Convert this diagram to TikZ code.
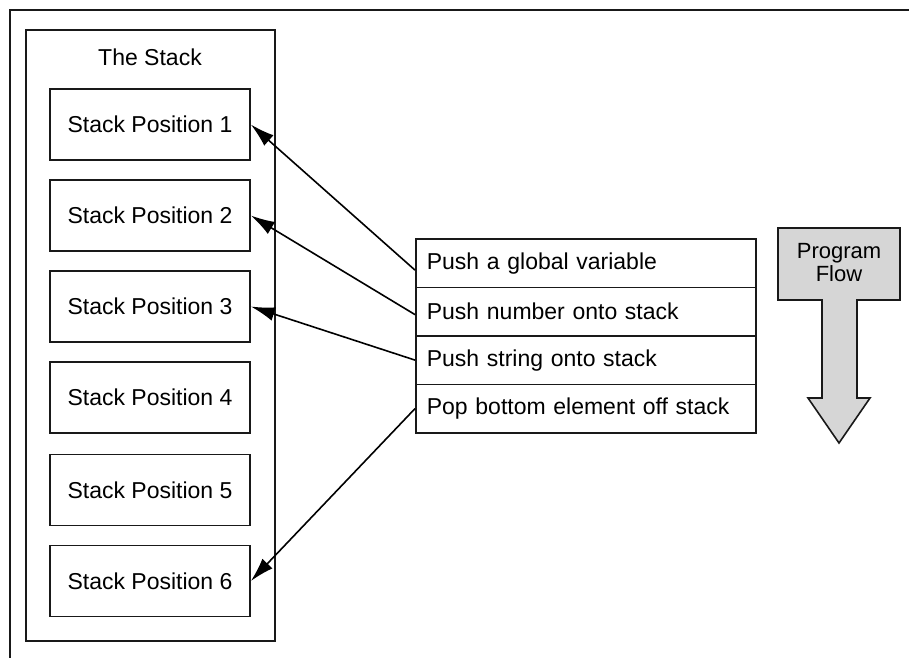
\documentclass[tikz,border=0pt]{standalone}
\usepackage{fontspec}
\setmainfont{Liberation Sans}
\usetikzlibrary{arrows.meta}
\begin{document}
\begin{tikzpicture}[x=1pt,y=-1pt,
  frame/.style={draw=black!90, line width=2.4pt},
  posbox/.style={draw=black!90, line width=1.7pt, minimum width=200pt, minimum height=71pt, font=\fontsize{23}{27}\selectfont, inner sep=0pt},
  rowbox/.style={draw=black!90, line width=1.7pt, minimum width=340pt, minimum height=48.5pt, font=\fontsize{23}{27}\selectfont, anchor=north west, text width=318pt, align=left, inner sep=0pt},
  conn/.style={line width=1.6pt, -{Latex[length=24pt,width=14pt]}},
  lbl/.style={font=\fontsize{23}{27}\selectfont, inner sep=0pt}]
\useasboundingbox (0,0) rectangle (909,658);
\fill[white] (0,0) rectangle (909,658);
% outer frame
\draw[frame] (909,10) -- (10,10) -- (10,658);
% stack container
\draw[frame, line width=1.8pt] (26,30) rectangle (275,641);
\node[lbl] (title) at (150,57) {The Stack};
\node[posbox] (p1) at (150,124.5) {Stack Position 1};
\node[posbox] (p2) at (150,215.5) {Stack Position 2};
\node[posbox] (p3) at (150,306.5) {Stack Position 3};
\node[posbox] (p4) at (150,397.5) {Stack Position 4};
\node[posbox] (p5) at (150,490) {Stack Position 5};
\node[posbox] (p6) at (150,581) {Stack Position 6};
% operations table
\node[rowbox] (r1) at (415,238) {Push a global variable};
\node[rowbox] (r2) at (415,286.5) {Push number onto stack};
\node[rowbox] (r3) at (415,335) {Push string onto stack};
\node[rowbox] (r4) at (415,383.5) {Pop bottom element off stack};
% connectors
\draw[conn] ([yshift=-7pt]r1.west) -- (p1.east);
\draw[conn] ([yshift=-3pt]r2.west) -- (p2.east);
\draw[conn] (r3.west) -- (p3.east);
\draw[conn] (r4.west) -- (p6.east);
% program flow arrow
\draw[draw=black!90, line width=1.6pt, fill=black!16]
  (778,228) -- (900,228) -- (900,300) -- (857,300) -- (857,398) -- (870,398)
  -- (839,443) -- (808,398) -- (822,398) -- (822,300) -- (778,300) -- cycle;
\node[lbl, align=center, font=\fontsize{22}{23}\selectfont] (pf) at (839,263) {Program\\Flow};
\end{tikzpicture}
\end{document}
